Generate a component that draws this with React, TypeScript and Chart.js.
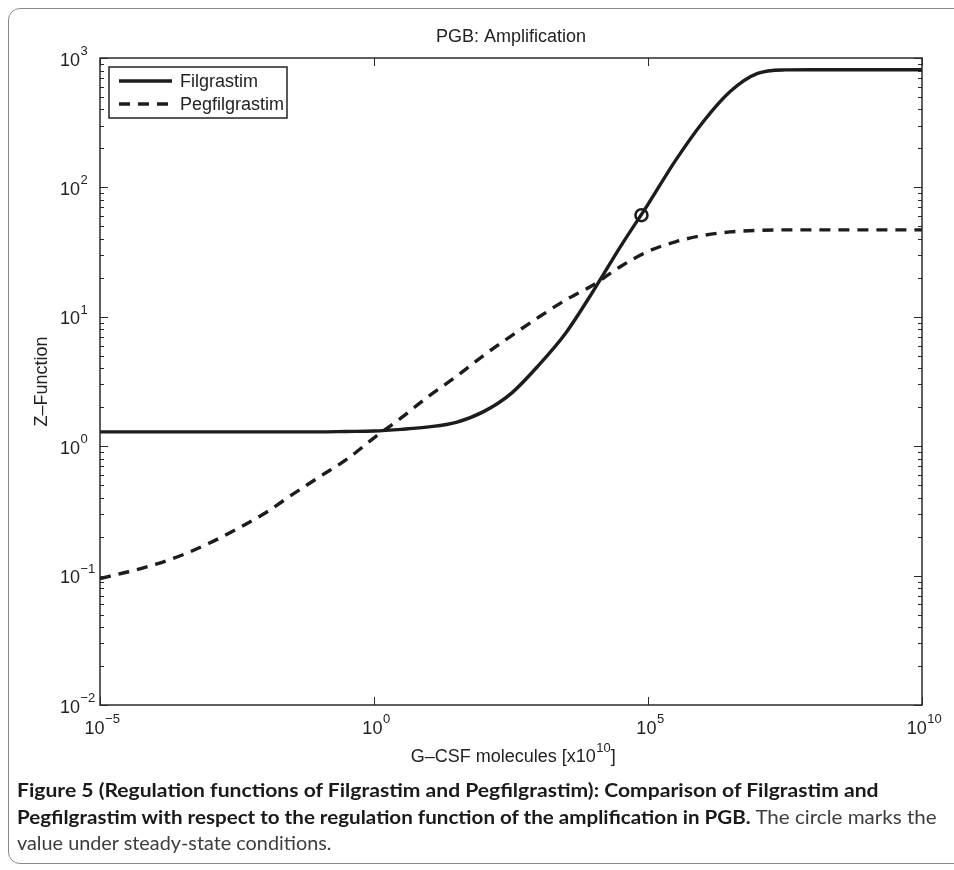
import React, { useEffect, useRef } from 'react';
import { Chart, registerables } from 'chart.js';

Chart.register(...registerables);

// ---------- data ----------
const logX = [-5, -4.5, -4, -3.5, -3, -2.5, -2, -1.5, -1, -0.5, 0, 0.5, 1, 1.5, 2, 2.5, 3, 3.5, 4, 4.5, 5, 5.5, 6, 6.5, 7, 7.5, 8, 8.5, 9, 9.5, 10];
const filgrastim = [1.29, 1.29, 1.29, 1.29, 1.29, 1.29, 1.29, 1.29, 1.29, 1.3, 1.31, 1.35, 1.41, 1.53, 1.85, 2.55, 4.2, 7.5, 15.8, 35, 74, 161, 319, 551, 760, 809, 812, 812, 812, 812, 812];
const pegfilgrastim = [0.095, 0.1066, 0.1218, 0.1443, 0.1786, 0.229, 0.302, 0.42, 0.578, 0.79, 1.16, 1.66, 2.44, 3.45, 5.03, 7.1, 9.9, 13.5, 17.6, 24.5, 32, 38, 42.5, 45.3, 46.5, 47, 47, 47, 47, 47, 47];
const steadyStateX = [7.6e4];
const steadyStateY = [61];

const seriesLabels = ['Filgrastim', 'Pegfilgrastim'];
const chartTitle = 'PGB: Amplification';
const yAxisTitle = 'Z–Function';
const xAxisTitleParts = ['G–CSF molecules [x10', '10', ']'];

const xTickValues = [1e-5, 1, 1e5, 1e10];
const xTickExponents = ['−5', '0', '5', '10'];
const yTickValues = [1e-2, 1e-1, 1, 1e1, 1e2, 1e3];
const yTickExponents = ['−2', '−1', '0', '1', '2', '3'];

// ---------- styles ----------
const FONT = '"Liberation Sans", Arial, Helvetica, sans-serif';
const INK = '#1c1c1c';
const TEXT = '#222';
const BASE_PX = 18;
const SUP_PX = 13;

function drawPower(ctx: CanvasRenderingContext2D, base: string, exp: string, x: number, baseline: number, align: 'center' | 'baseRight', raise = 10.5) {
  ctx.font = `${BASE_PX}px ${FONT}`;
  const wb = ctx.measureText(base).width;
  ctx.font = `${SUP_PX}px ${FONT}`;
  const we = ctx.measureText(exp).width;
  const x0 = align === 'center' ? x - (wb + we) / 2 : x - wb;
  ctx.textAlign = 'left';
  ctx.textBaseline = 'alphabetic';
  ctx.font = `${BASE_PX}px ${FONT}`;
  ctx.fillText(base, x0, baseline);
  ctx.font = `${SUP_PX}px ${FONT}`;
  ctx.fillText(exp, x0 + wb + 0.5, baseline - raise);
}

const matlabAxes = {
  id: 'matlabAxes',
  afterDatasetsDraw(chart: any) {
    const { ctx, chartArea: a, scales } = chart;
    const x = scales.x;
    const y = scales.y;
    ctx.save();
    ctx.setLineDash([]);
    ctx.strokeStyle = '#2a2a2a';
    const seg = (x1: number, y1: number, x2: number, y2: number) => {
      ctx.beginPath();
      ctx.moveTo(x1, y1);
      ctx.lineTo(x2, y2);
      ctx.stroke();
    };
    // y ticks (major + minor, inward, both sides)
    ctx.lineWidth = 1;
    yTickValues.forEach((v, i) => {
      for (let m = 1; m <= 9; m++) {
        if (i === yTickValues.length - 1 && m > 1) break;
        const py = Math.round(y.getPixelForValue(v * m)) + 0.5;
        const len = m === 1 ? 8 : 4;
        seg(a.left, py, a.left + len, py);
        seg(a.right, py, a.right - len, py);
      }
    });
    // x ticks (major, inward, top and bottom)
    xTickValues.forEach((v) => {
      const px = Math.round(x.getPixelForValue(v)) + 0.5;
      seg(px, a.bottom, px, a.bottom - 8);
      seg(px, a.top, px, a.top + 8);
    });
    // box
    ctx.lineWidth = 1.5;
    ctx.strokeRect(a.left, a.top, a.right - a.left, a.bottom - a.top);

    ctx.fillStyle = TEXT;
    // title, centred over the plot area
    ctx.font = `${BASE_PX}px ${FONT}`;
    ctx.textAlign = 'center';
    ctx.textBaseline = 'middle';
    ctx.fillText(chartTitle, (a.left + a.right) / 2, a.top - 21);

    // tick labels
    yTickValues.forEach((v, i) => {
      const py = y.getPixelForValue(v);
      drawPower(ctx, '10', yTickExponents[i], a.left - 20, py + 7.5, 'baseRight');
    });
    xTickValues.forEach((v, i) => {
      const px = x.getPixelForValue(v);
      drawPower(ctx, '10', xTickExponents[i], px + 2, a.bottom + 28.5, 'center');
    });

    // x axis title with superscript
    ctx.font = `${BASE_PX}px ${FONT}`;
    const w1 = ctx.measureText(xAxisTitleParts[0]).width;
    const w3 = ctx.measureText(xAxisTitleParts[2]).width;
    ctx.font = `${SUP_PX}px ${FONT}`;
    const w2 = ctx.measureText(xAxisTitleParts[1]).width;
    const cx = (a.left + a.right) / 2 + 2;
    const bx = cx - (w1 + w2 + w3) / 2;
    const by = a.bottom + 57;
    ctx.textAlign = 'left';
    ctx.textBaseline = 'alphabetic';
    ctx.font = `${BASE_PX}px ${FONT}`;
    ctx.fillText(xAxisTitleParts[0], bx, by);
    ctx.fillText(xAxisTitleParts[2], bx + w1 + w2 + 0.5, by);
    ctx.font = `${SUP_PX}px ${FONT}`;
    ctx.fillText(xAxisTitleParts[1], bx + w1 + 0.5, by - 10);
    ctx.restore();
  },
  afterDraw(chart: any) {
    const { ctx, chartArea: a } = chart;
    const left = a.left + 9;
    const top = a.top + 9;
    const w = 178;
    const h = 51;
    ctx.save();
    ctx.fillStyle = '#fff';
    ctx.fillRect(left, top, w, h);
    ctx.strokeStyle = '#222';
    ctx.lineWidth = 1.5;
    ctx.setLineDash([]);
    ctx.strokeRect(left, top, w, h);
    const rows = [top + 14, top + 37];
    chart.data.datasets.slice(0, 2).forEach((ds: any, i: number) => {
      ctx.strokeStyle = ds.borderColor;
      ctx.lineWidth = ds.borderWidth;
      ctx.setLineDash(ds.borderDash || []);
      ctx.beginPath();
      ctx.moveTo(left + 10, rows[i]);
      ctx.lineTo(left + 63, rows[i]);
      ctx.stroke();
      ctx.setLineDash([]);
      ctx.fillStyle = TEXT;
      ctx.font = `${BASE_PX}px ${FONT}`;
      ctx.textAlign = 'left';
      ctx.textBaseline = 'middle';
      ctx.fillText(ds.label, left + 71, rows[i] + 1);
    });
    ctx.restore();
  },
};

export default function App() {
  const canvasRef = useRef<HTMLCanvasElement | null>(null);
  const lineRefs = [useRef<HTMLDivElement | null>(null), useRef<HTMLDivElement | null>(null), useRef<HTMLDivElement | null>(null)];
  const lineTargets = [861, 920, 315];

  useEffect(() => {
    const canvas = canvasRef.current;
    if (!canvas) return;
    const chart = new Chart(canvas, {
      type: 'line',
      data: {
        datasets: [
          {
            label: seriesLabels[0],
            data: logX.map((e, i) => ({ x: Math.pow(10, e), y: filgrastim[i] })),
            borderColor: INK,
            borderWidth: 3.4,
            pointRadius: 0,
            fill: false,
            cubicInterpolationMode: 'monotone',
          },
          {
            label: seriesLabels[1],
            data: logX.map((e, i) => ({ x: Math.pow(10, e), y: pegfilgrastim[i] })),
            borderColor: INK,
            borderWidth: 3.4,
            borderDash: [11, 8],
            pointRadius: 0,
            fill: false,
            cubicInterpolationMode: 'monotone',
          },
          {
            label: 'Steady state',
            data: steadyStateX.map((v, i) => ({ x: v, y: steadyStateY[i] })),
            showLine: false,
            pointRadius: 6,
            pointBorderWidth: 2.6,
            pointBorderColor: INK,
            pointBackgroundColor: 'rgba(0,0,0,0)',
            borderColor: INK,
          },
        ],
      } as any,
      options: {
        animation: false,
        responsive: false,
        maintainAspectRatio: false,
        layout: { padding: { top: 58, right: 32, bottom: 0, left: 0 } },
        scales: {
          x: {
            type: 'logarithmic',
            min: 1e-5,
            max: 1e10,
            grid: { display: false },
            border: { display: false },
            ticks: { display: false },
            afterBuildTicks: (s: any) => {
              s.ticks = xTickValues.map((v) => ({ value: v }));
            },
            afterFit: (s: any) => {
              s.height = 75;
            },
          },
          y: {
            type: 'logarithmic',
            min: 1e-2,
            max: 1e3,
            grid: { display: false },
            border: { display: false },
            ticks: { display: false },
            afterBuildTicks: (s: any) => {
              s.ticks = yTickValues.map((v) => ({ value: v }));
            },
            afterFit: (s: any) => {
              s.width = 100;
            },
            title: {
              display: true,
              text: yAxisTitle,
              color: TEXT,
              font: { family: FONT, size: BASE_PX, weight: 'normal' },
              padding: { top: 31.5, bottom: 0 },
            },
          },
        },
        plugins: {
          legend: { display: false },
          tooltip: { enabled: false },
          title: { display: false },
        },
      } as any,
      plugins: [matlabAxes],
    });

    lineRefs.forEach((r, i) => {
      const el = r.current;
      if (!el) return;
      el.style.transform = 'none';
      const w = el.scrollWidth;
      if (w > 0) el.style.transform = `scaleX(${lineTargets[i] / w})`;
    });

    return () => chart.destroy();
  }, []);

  const lineStyle: React.CSSProperties = {
    width: 'max-content',
    whiteSpace: 'nowrap',
    transformOrigin: '0 0',
    height: 26.5,
  };
  const boldStyle: React.CSSProperties = { fontWeight: 700, color: '#1a1a1a' };
  const lightStyle: React.CSSProperties = { fontWeight: 400, color: '#3d3d3d' };

  return (
    <div style={{ position: 'absolute', left: 0, top: 0, width: 954, height: 870, overflow: 'hidden', background: '#fff' }}>
      <div
        style={{
          position: 'absolute',
          left: 8,
          top: 8,
          width: 1000,
          height: 856,
          border: '1.5px solid #8a8a8a',
          borderRadius: 12,
          boxSizing: 'border-box',
        }}
      />
      <canvas
        ref={canvasRef}
        width={954}
        height={780}
        style={{ position: 'absolute', left: 0, top: 0, width: 954, height: 780 }}
      />
      <div
        style={{
          position: 'absolute',
          left: 17,
          top: 777,
          fontFamily: 'Lato, "Open Sans", "Noto Sans", sans-serif',
          fontSize: 18.5,
          lineHeight: '26.5px',
        }}
      >
        <div ref={lineRefs[0]} style={lineStyle}>
          <span style={boldStyle}>Figure 5 (Regulation functions of Filgrastim and Pegfilgrastim): Comparison of Filgrastim and</span>
        </div>
        <div ref={lineRefs[1]} style={lineStyle}>
          <span style={boldStyle}>Pegfilgrastim with respect to the regulation function of the amplification in PGB.</span>{' '}
          <span style={lightStyle}>The circle marks the</span>
        </div>
        <div ref={lineRefs[2]} style={lineStyle}>
          <span style={lightStyle}>value under steady-state conditions.</span>
        </div>
      </div>
    </div>
  );
}
